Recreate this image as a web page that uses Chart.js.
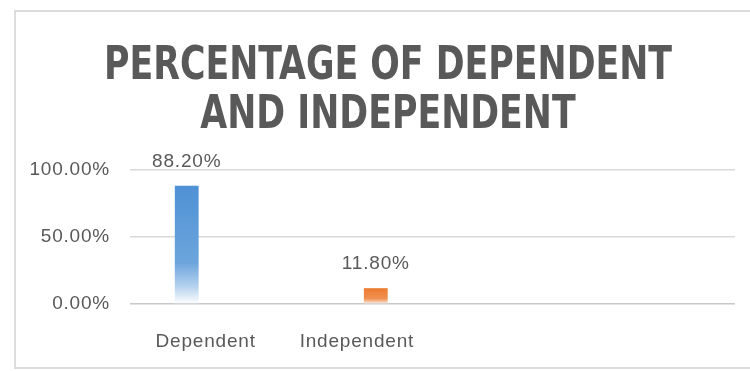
<!DOCTYPE html>
<html>
<head>
<meta charset="utf-8">
<script src="https://cdn.jsdelivr.net/npm/chart.js@4"></script>
<style>
  html, body { margin: 0; padding: 0; background: #fff; overflow: hidden; }
  #frame {
    position: absolute; left: 14px; top: 10px;
    width: 780px; height: 355px;
    border: 2px solid #dcdcdc;
  }
  #chart { display: block; }
</style>
</head>
<body>
<div id="frame"><canvas id="chart" width="744" height="355"></canvas></div>
<script>
// ── Chart data ──
const categories = ['Dependent', 'Independent', '', ''];
const dependentValues = [88.2, null, null, null];
const independentValues = [null, 11.8, null, null];
const yTicks = [0, 50, 100];
const titleLines = ['PERCENTAGE OF DEPENDENT', 'AND INDEPENDENT'];

const TEXT_COLOR = '#595959';
const LABEL_FONT = '"Liberation Sans", Arial, sans-serif';

// vertical fade: solid colour at the top, white at the base
function barGradient(top, mid, soft) {
  return (ctx) => {
    const chart = ctx.chart;
    const v = ctx.raw;
    if (v == null || !chart.chartArea) return top;
    const y = chart.scales.y;
    const y0 = y.getPixelForValue(v);
    const y1 = y.getPixelForValue(0);
    const g = chart.ctx.createLinearGradient(0, y0, 0, y1);
    g.addColorStop(0, top);
    g.addColorStop(0.65, mid);
    g.addColorStop(0.85, soft);
    g.addColorStop(1, '#ffffff');
    return g;
  };
}

// slightly open tracking for all axis / label text
const tracking = {
  id: 'tracking',
  beforeDraw(chart) { chart.ctx.letterSpacing = '0.8px'; }
};

// condensed two-line heading (no narrow face installed, so squeeze it)
const heading = {
  id: 'heading',
  afterDraw(chart) {
    const c = chart.ctx;
    c.save();
    c.letterSpacing = '0px';
    c.font = 'bold 46px "DejaVu Sans Condensed", "DejaVu Sans", sans-serif';
    c.fillStyle = TEXT_COLOR;
    c.textAlign = 'center';
    c.textBaseline = 'alphabetic';
    c.translate(chart.width / 2, 0);
    c.scale(0.84, 1);
    titleLines.forEach((line, i) => c.fillText(line, 0, 67 + i * 49));
    c.restore();
  }
};

// value labels above each bar
const valueLabels = {
  id: 'valueLabels',
  afterDatasetsDraw(chart) {
    const c = chart.ctx;
    c.save();
    c.font = '19px ' + LABEL_FONT;
    c.fillStyle = TEXT_COLOR;
    c.textAlign = 'center';
    c.textBaseline = 'middle';
    chart.data.datasets.forEach((ds, di) => {
      chart.getDatasetMeta(di).data.forEach((bar, i) => {
        const v = ds.data[i];
        if (v == null) return;
        c.fillText(v.toFixed(2) + '%', bar.x, bar.y - 24);
      });
    });
    c.restore();
  }
};

new Chart(document.getElementById('chart'), {
  type: 'bar',
  data: {
    labels: categories,
    datasets: [
      {
        label: 'Dependent',
        data: dependentValues,
        backgroundColor: barGradient('#4f91d5', '#6ca5dc', '#b5d1ee'),
        borderWidth: 0
      },
      {
        label: 'Independent',
        data: independentValues,
        backgroundColor: barGradient('#ec7a2e', '#f09050', '#f7c4a0'),
        borderWidth: 0
      }
    ]
  },
  options: {
    responsive: false,
    animation: false,
    devicePixelRatio: 1,
    categoryPercentage: 0.5,
    barPercentage: 0.63,
    layout: { padding: { left: 14, right: 25, top: 158, bottom: 0 } },
    plugins: {
      legend: { display: false },
      tooltip: { enabled: false },
      title: { display: false }
    },
    scales: {
      x: {
        grid: { display: false },
        border: { display: false },
        ticks: {
          color: TEXT_COLOR,
          font: { family: LABEL_FONT, size: 19 },
          padding: 18,
          maxRotation: 0
        },
        afterFit(s) { s.height = 63; }
      },
      y: {
        min: 0,
        max: 100,
        afterBuildTicks(s) { s.ticks = yTicks.map(v => ({ value: v })); },
        grid: {
          color: (c) => c.tick && c.tick.value === 0 ? '#c8c8c8' : '#d9d9d9',
          lineWidth: 1.5,
          drawTicks: false
        },
        border: { display: false },
        ticks: {
          color: TEXT_COLOR,
          font: { family: LABEL_FONT, size: 19 },
          padding: 20,
          callback: (v) => v.toFixed(2) + '%'
        },
        afterFit(s) { s.width = 100; }
      }
    }
  },
  plugins: [tracking, valueLabels, heading]
});
</script>
</body>
</html>
